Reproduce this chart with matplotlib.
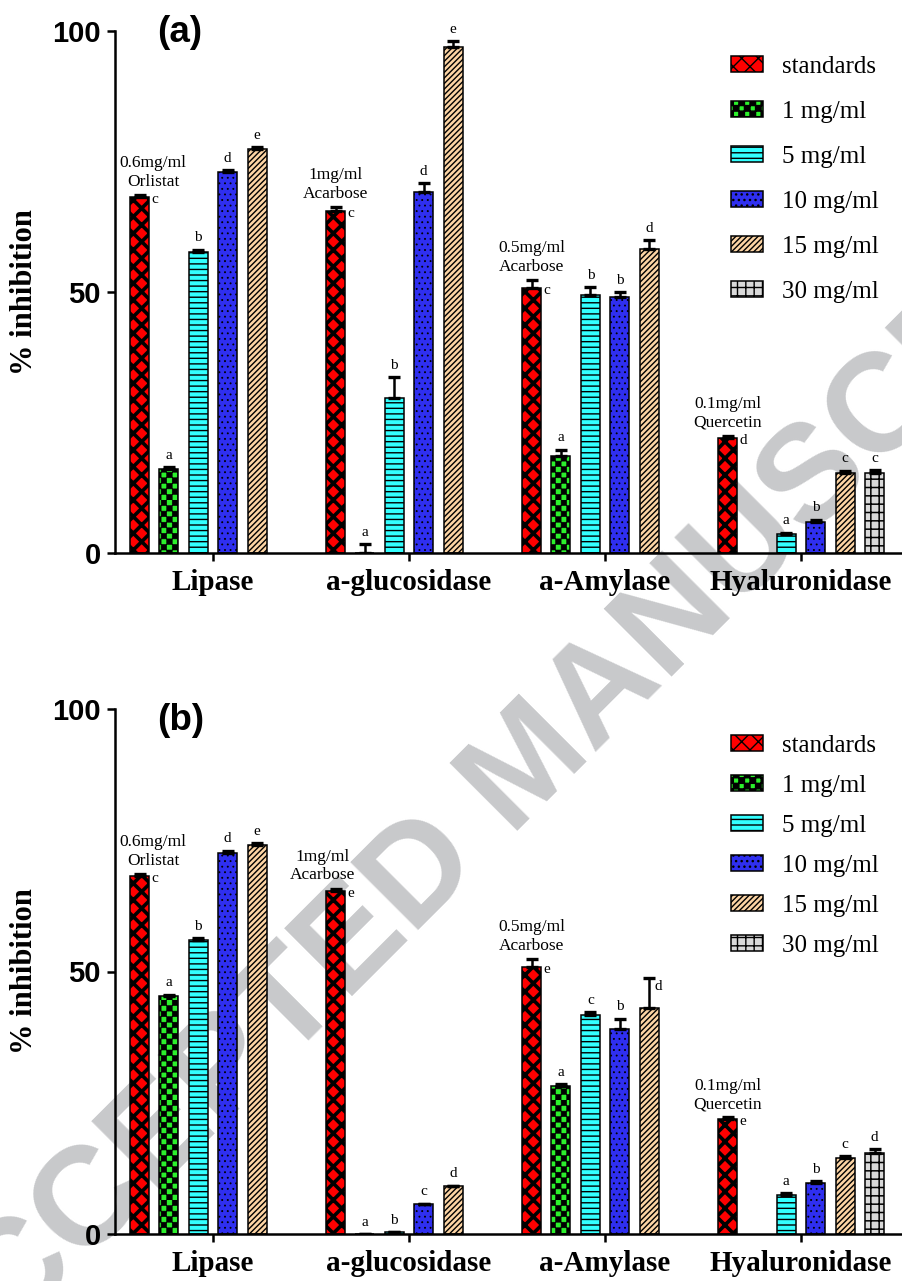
import numpy as np
import matplotlib
matplotlib.use('Agg')
import matplotlib.pyplot as plt
import matplotlib.hatch as mhatch
from matplotlib.patches import Patch
from matplotlib.path import Path

nan = np.nan

enzymes = ['Lipase', 'a-glucosidase', 'a-Amylase', 'Hyaluronidase']
series = ['standards', '1 mg/ml', '5 mg/ml', '10 mg/ml', '15 mg/ml', '30 mg/ml']
std_notes = ['0.6mg/ml\nOrlistat', '1mg/ml\nAcarbose', '0.5mg/ml\nAcarbose', '0.1mg/ml\nQuercetin']

# panel (a): rows = series, columns = enzymes
a_values = [[68.2, 65.5, 50.8, 22.0],
            [16.1, 0.0, 18.6, nan],
            [57.7, 29.7, 49.4, 3.6],
            [73.0, 69.2, 49.0, 5.9],
            [77.4, 96.9, 58.2, 15.3],
            [nan, nan, nan, 15.3]]
a_errors = [[0.4, 0.8, 1.5, 0.4],
            [0.4, 1.7, 1.2, nan],
            [0.4, 4.0, 1.5, 0.3],
            [0.4, 1.7, 1.0, 0.5],
            [0.4, 1.2, 1.7, 0.5],
            [nan, nan, nan, 0.6]]
a_letters = [['c', 'c', 'c', 'd'],
             ['a', 'a', 'a', ''],
             ['b', 'b', 'b', 'a'],
             ['d', 'd', 'b', 'b'],
             ['e', 'e', 'd', 'c'],
             ['', '', '', 'c']]

# panel (b)
b_values = [[68.2, 65.3, 50.9, 21.9],
            [45.3, 0.0, 28.2, nan],
            [56.0, 0.3, 41.7, 7.5],
            [72.6, 5.7, 39.0, 9.7],
            [74.1, 9.1, 43.0, 14.5],
            [nan, nan, nan, 15.4]]
b_errors = [[0.4, 0.5, 1.5, 0.3],
            [0.3, 0.0, 0.3, nan],
            [0.3, 0.1, 0.6, 0.3],
            [0.4, 0.1, 2.0, 0.4],
            [0.4, 0.1, 5.8, 0.4],
            [nan, nan, nan, 0.8]]
b_letters = [['c', 'e', 'e', 'e'],
             ['a', 'a', 'a', ''],
             ['b', 'b', 'c', 'a'],
             ['d', 'c', 'b', 'b'],
             ['e', 'd', 'd', 'c'],
             ['', '', '', 'd']]

# styles
faces = ['#ff0000', '#2cf02c', '#33ffff', '#2f2ff0', '#fcd4a4', '#d9d9d9']
hatches = ['xx', 'OOO', '---', '...', '//////', '++']
hatch_lw = [2.6, 0.4, 1.0, 0.6, 1.0, 1.1]
SERIF = 'Liberation Serif'
SANS = 'Liberation Sans'


# checkerboard hatch (replaces the large circle pattern 'O')
class Checker(mhatch.HatchPatternBase):
    def __init__(self, hatch, density):
        self.n = 2 * ((hatch.count('O') * density) // 2)
        self.num_vertices = 5 * self.n * self.n // 2

    def set_vertices_and_codes(self, vertices, codes):
        s = 1.0 / self.n
        cells = [(i, j) for i in range(self.n) for j in range(self.n) if (i + j) % 2 == 0]
        sq = np.array([[0, 0], [s, 0], [s, s], [0, s], [0, 0]])
        vertices[:] = np.concatenate([sq + [i * s, j * s] for i, j in cells])
        codes[:] = np.tile([Path.MOVETO, Path.LINETO, Path.LINETO, Path.LINETO, Path.CLOSEPOLY], len(cells))


mhatch._hatch_types = [Checker if t is mhatch.LargeCircles else t for t in mhatch._hatch_types]
plt.rcParams['hatch.linewidth'] = 1.0


def hlw(p, lw):
    if hasattr(p, 'set_hatch_linewidth'):
        p.set_hatch_linewidth(lw)


step, width = 0.15, 0.097


def panel(ax, values, errors, letters, note_dx, right_letters):
    x = np.arange(len(enzymes))
    for k in range(len(series)):
        pos = x + (k - 2.5) * step
        vals = np.array(values[k], float)
        errs = np.array(errors[k], float)
        bars = ax.bar(pos, vals, width, color=faces[k], edgecolor='black',
                      hatch=hatches[k], linewidth=1.1, zorder=2)
        for b in bars:
            hlw(b, hatch_lw[k])
        ok = ~np.isnan(vals)
        ax.errorbar(pos[ok], vals[ok], yerr=[np.zeros(ok.sum()), errs[ok]], fmt='none',
                    ecolor='black', elinewidth=1.8, capsize=4, capthick=2.4, zorder=3)
        for j in range(len(enzymes)):
            if np.isnan(vals[j]):
                continue
            top = vals[j] + errs[j]
            lab = letters[k][j]
            if k == 0:
                ax.text(pos[j] + width / 2 + 0.012, vals[j] - 0.5, lab, ha='left', va='center',
                        fontsize=11, family=SERIF)
                ax.text(pos[j] + note_dx[j], top + 1.0, std_notes[j], ha='center', va='bottom',
                        fontsize=12.5, family=SERIF, linespacing=1.2)
            elif (k, j) in right_letters:
                ax.text(pos[j] + 0.025, top - 1.7, lab, ha='left', va='center',
                        fontsize=11, family=SERIF)
            else:
                ax.text(pos[j], top + 1.0, lab, ha='center', va='bottom',
                        fontsize=11, family=SERIF)

    ax.set_xlim(-0.5, 3.515)
    ax.set_ylim(0, 100)
    ax.set_facecolor('none')
    for s in ['top', 'right']:
        ax.spines[s].set_visible(False)
    for s in ['left', 'bottom']:
        ax.spines[s].set_linewidth(1.8)
    ax.set_yticks([0, 50, 100], labels=['0', '50', '100'], family=SANS, fontweight='bold', fontsize=21)
    ax.set_xticks(x, labels=enzymes, family=SERIF, fontweight='bold', fontsize=21)
    ax.tick_params(axis='y', direction='out', length=5.8, width=1.8, pad=4.5)
    ax.tick_params(axis='x', direction='out', length=5.8, width=1.8, pad=6)
    ax.set_ylabel('% inhibition', family=SERIF, fontweight='bold', fontsize=22)
    ax.yaxis.set_label_coords(-0.097, 0.5)


fig = plt.figure(figsize=(9.02, 12.81), dpi=100)
W, H = 902, 1281

ax_a = fig.add_axes([115 / W, 1 - 553 / H, 787 / W, 522 / H])
ax_b = fig.add_axes([115 / W, 1 - 1234 / H, 787 / W, 525 / H])
panel(ax_a, a_values, a_errors, a_letters, [0.07, 0, 0, 0], [])
panel(ax_b, b_values, b_errors, b_letters, [0.07, -0.065, 0, 0], [(4, 2)])

fig.text(157 / W, 1 - 32 / H, '(a)', fontsize=26.5, fontweight='bold', family=SANS, va='center', ha='left')
fig.text(157 / W, 1 - 720 / H, '(b)', fontsize=26.5, fontweight='bold', family=SANS, va='center', ha='left')

handles = []
for k in range(len(series)):
    p = Patch(facecolor=faces[k], edgecolor='black', hatch=hatches[k], linewidth=1.1)
    hlw(p, hatch_lw[k])
    handles.append(p)

for ax, top, spacing in [(ax_a, 1 - 56 / H, 0.92), (ax_b, 1 - 735 / H, 0.72)]:
    ax.legend(handles, series, loc='upper left', bbox_to_anchor=(731 / W, top),
              bbox_transform=fig.transFigure, frameon=False,
              prop={'family': SERIF, 'size': 18}, handlelength=1.28, handleheight=0.6,
              handletextpad=0.76, labelspacing=spacing, borderpad=0, borderaxespad=0)

# watermark
fig.text(530 / W, 1 - 768 / H, 'ACCEPTED MANUSCRIPT', fontsize=101, fontweight='bold', family=SANS,
         color='#c8c9cb', rotation=45.0, rotation_mode='anchor', ha='center', va='center', zorder=-1)

fig.savefig('out.png', dpi=100)
